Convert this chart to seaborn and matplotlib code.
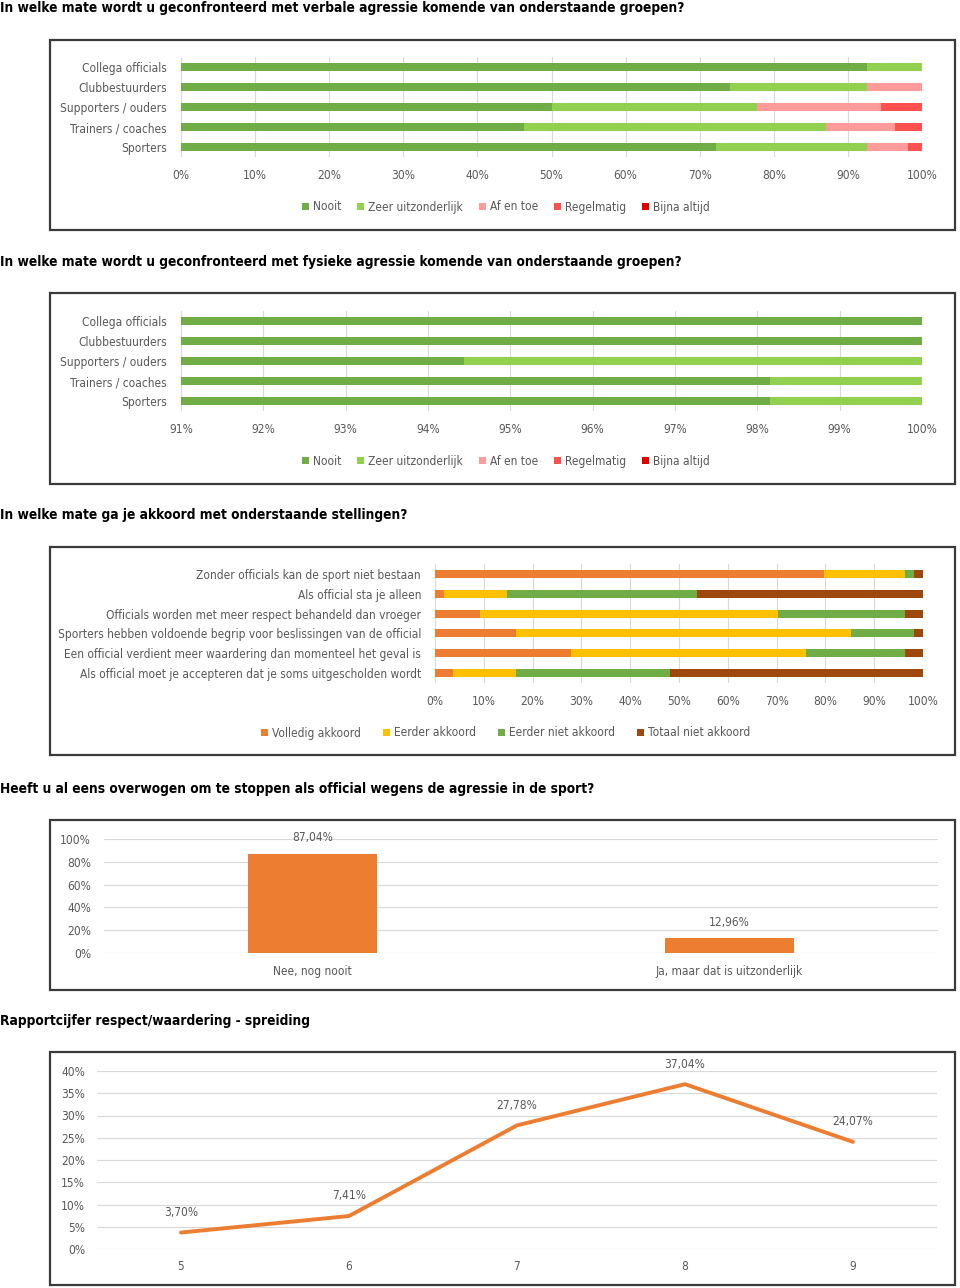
import numpy as np
import pandas as pd
import matplotlib
matplotlib.use("Agg")
import matplotlib.pyplot as plt
import seaborn as sns
from matplotlib.patches import Rectangle, Patch
from matplotlib import font_manager
from matplotlib.font_manager import FontProperties
from matplotlib.textpath import TextPath

# ---------------- data ----------------
groups = ["Collega officials", "Clubbestuurders", "Supporters / ouders",
          "Trainers / coaches", "Sporters"]
freq_labels = ["Nooit", "Zeer uitzonderlijk", "Af en toe", "Regelmatig", "Bijna altijd"]

verbal_nooit = [92.59, 74.07, 50.00, 46.30, 72.22]
verbal_zeer = [7.41, 18.52, 27.78, 40.74, 20.37]
verbal_afentoe = [0.0, 7.41, 16.67, 9.26, 5.56]
verbal_regelmatig = [0.0, 0.0, 5.56, 3.70, 1.85]
verbal_bijna = [0.0, 0.0, 0.0, 0.0, 0.0]

fysiek_nooit = [100.0, 100.0, 94.44, 98.15, 98.15]
fysiek_zeer = [0.0, 0.0, 5.56, 1.85, 1.85]
fysiek_afentoe = [0.0, 0.0, 0.0, 0.0, 0.0]
fysiek_regelmatig = [0.0, 0.0, 0.0, 0.0, 0.0]
fysiek_bijna = [0.0, 0.0, 0.0, 0.0, 0.0]

statements = ["Zonder officials kan de sport niet bestaan",
              "Als official sta je alleen",
              "Officials worden met meer respect behandeld dan vroeger",
              "Sporters hebben voldoende begrip voor beslissingen van de official",
              "Een official verdient meer waardering dan momenteel het geval is",
              "Als official moet je accepteren dat je soms uitgescholden wordt"]
agree_labels = ["Volledig akkoord", "Eerder akkoord", "Eerder niet akkoord", "Totaal niet akkoord"]
volledig = [79.63, 1.85, 9.26, 16.67, 27.78, 3.70]
eerder = [16.67, 12.96, 61.11, 68.52, 48.15, 12.96]
eerder_niet = [1.85, 38.89, 25.93, 12.96, 20.37, 31.48]
totaal_niet = [1.85, 46.30, 3.70, 1.85, 3.70, 51.85]

stop_labels = ["Nee, nog nooit", "Ja, maar dat is uitzonderlijk"]
stop_values = [87.04, 12.96]

scores = ["5", "6", "7", "8", "9"]
score_pct = [3.70, 7.41, 27.78, 37.04, 24.07]

titles = ["In welke mate wordt u geconfronteerd met verbale agressie komende van onderstaande groepen?",
          "In welke mate wordt u geconfronteerd met fysieke agressie komende van onderstaande groepen?",
          "In welke mate ga je akkoord met onderstaande stellingen?",
          "Heeft u al eens overwogen om te stoppen als official wegens de agressie in de sport?",
          "Rapportcijfer respect/waardering - spreiding"]

# ---------------- font choice: narrowest sans (relative to x-height) ----------------
sns.set_theme(style="white")
allowed = ["Liberation Sans Narrow", "Arial Narrow", "Liberation Sans", "DejaVu Sans",
           "Noto Sans", "Roboto", "Open Sans", "Lato", "Inter"]
best = None
seen = set()
for f in font_manager.fontManager.ttflist:
    if f.name not in allowed or f.style != "normal":
        continue
    w = f.weight if isinstance(f.weight, int) else {"normal": 400, "regular": 400, "book": 400}.get(str(f.weight), 0)
    if w != 400:
        continue
    key = (f.name, str(f.stretch))
    if key in seen:
        continue
    seen.add(key)
    try:
        fp = FontProperties(fname=f.fname)
        wid = TextPath((0, 0), statements[3], size=10, prop=fp).get_extents().width
        xh = TextPath((0, 0), "x", size=10, prop=fp).get_extents().height
        ratio = wid / xh
    except Exception:
        continue
    if best is None or ratio < best[0]:
        best = (ratio, f.name, f.stretch)
fam_name, fam_stretch = (best[1], best[2]) if best else ("DejaVu Sans", "normal")
plt.rcParams['font.family'] = [fam_name, "DejaVu Sans"]
plt.rcParams['font.stretch'] = fam_stretch

freq_colors = ["#70AD47", "#92D050", "#FF9B9B", "#FF5050", "#E00000"]
agree_colors = ["#ED7D31", "#FFC000", "#70AD47", "#9E480E"]
GRID = "#D9D9D9"
TXT = "#595959"
ORANGE = "#ED7D31"

W, H = 960, 1288
fig = plt.figure(figsize=(W / 100, H / 100), dpi=100)
fig.patch.set_facecolor("white")
renderer = fig.canvas.get_renderer()


def measure(s, size, weight="normal"):
    t = fig.text(0, 0, s, fontsize=size, fontweight=weight)
    w = t.get_window_extent(renderer=renderer).width
    t.remove()
    return w


# calibrate sizes so the text widths match the reference
FS = 10.0 * 362 / measure(statements[3], 10.0)
TFS = 10.0 * 683 / measure(titles[0], 10.0, "bold")
FSPX = FS * 100 / 72


def rect(x0, y0, x1, y1):
    return [x0 / W, 1 - y1 / H, (x1 - x0) / W, (y1 - y0) / H]


def box(x0, y0, x1, y1):
    fig.patches.append(Rectangle((x0 / W, 1 - y1 / H), (x1 - x0) / W, (y1 - y0) / H,
                                 transform=fig.transFigure, fill=False,
                                 edgecolor="#3A3A3A", lw=1.6, zorder=0))


def title(y, s):
    fig.text(0.5 / W, 1 - y / H, s, fontsize=TFS, fontweight="bold", color="black",
             ha="left", va="center")


def style_ax(ax, gridaxis):
    for sp in ax.spines.values():
        sp.set_visible(False)
    ax.grid(axis=gridaxis, color=GRID, lw=0.8)
    ax.set_axisbelow(True)
    ax.tick_params(length=0, colors=TXT, labelsize=FS)
    ax.set_xlabel("")
    ax.set_ylabel("")
    ax.set_facecolor("none")


def stacked(ax, cats, series, labels, colors, width):
    df = pd.DataFrame(dict(zip(labels, series)), index=cats)
    cum = df.cumsum(axis=1)
    for lab, col in reversed(list(zip(labels, colors))):
        vals = cum[lab].where(df[lab] > 0)
        d = pd.DataFrame({"cat": cats, "val": vals.values})
        sns.barplot(data=d, x="val", y="cat", order=cats, orient="h", color=col,
                    saturation=1, width=width, linewidth=0, ax=ax, errorbar=None)


def legend(labels, colors, yc, xc, gap_px):
    handles = [Patch(facecolor=c, edgecolor="none") for c in colors]
    fig.legend(handles, labels, loc="center", bbox_to_anchor=(xc / W, 1 - yc / H),
               ncol=len(labels), frameon=False, fontsize=FS,
               handlelength=7 / FSPX, handleheight=7 / FSPX,
               handletextpad=4 / FSPX, columnspacing=gap_px / FSPX,
               borderaxespad=0, borderpad=0, labelcolor=TXT)


pct = lambda v, p: f"{v:.0f}%"

# ---------------- chart 1 ----------------
title(8, titles[0])
box(50, 40, 955, 230)
ax1 = fig.add_axes(rect(181, 57, 922, 157))
stacked(ax1, groups, [verbal_nooit, verbal_zeer, verbal_afentoe, verbal_regelmatig, verbal_bijna],
        freq_labels, freq_colors, 0.36)
ax1.set_xlim(0, 100)
ax1.set_xticks(np.arange(0, 101, 10))
ax1.xaxis.set_major_formatter(pct)
style_ax(ax1, "x")
ax1.tick_params(axis="y", pad=10)
ax1.tick_params(axis="x", pad=8.5)
legend(freq_labels, freq_colors, 207, 506, 16)

# ---------------- chart 2 ----------------
title(262, titles[1])
box(50, 293, 955, 484)
ax2 = fig.add_axes(rect(181, 311, 922, 411))
stacked(ax2, groups, [fysiek_nooit, fysiek_zeer, fysiek_afentoe, fysiek_regelmatig, fysiek_bijna],
        freq_labels, freq_colors, 0.36)
ax2.set_xlim(91, 100)
ax2.set_xticks(np.arange(91, 101, 1))
ax2.xaxis.set_major_formatter(pct)
style_ax(ax2, "x")
ax2.tick_params(axis="y", pad=10)
ax2.tick_params(axis="x", pad=8.5)
legend(freq_labels, freq_colors, 461, 506, 16)

# ---------------- chart 3 ----------------
title(515, titles[2])
box(50, 547, 955, 755)
ax3 = fig.add_axes(rect(435, 564, 923, 683))
stacked(ax3, statements, [volledig, eerder, eerder_niet, totaal_niet],
        agree_labels, agree_colors, 0.40)
ax3.set_xlim(0, 100)
ax3.set_xticks(np.arange(0, 101, 10))
ax3.xaxis.set_major_formatter(pct)
style_ax(ax3, "x")
ax3.tick_params(axis="y", pad=10)
ax3.tick_params(axis="x", pad=8.5)
legend(agree_labels, agree_colors, 733, 506, 22)

# ---------------- chart 4 ----------------
title(789, titles[3])
box(50, 820, 955, 990)
ax4 = fig.add_axes(rect(104, 839, 938, 953))
d4 = pd.DataFrame({"cat": stop_labels, "val": stop_values})
sns.barplot(data=d4, x="cat", y="val", order=stop_labels, color=ORANGE, saturation=1,
            width=0.31, linewidth=0, ax=ax4, errorbar=None)
ax4.set_ylim(0, 100)
ax4.set_yticks(np.arange(0, 101, 20))
ax4.yaxis.set_major_formatter(pct)
ax4.set_xlim(-0.5, 1.5)
style_ax(ax4, "y")
ax4.tick_params(axis="y", pad=9.4)
ax4.tick_params(axis="x", pad=9)
for i, v in enumerate(stop_values):
    ax4.annotate(f"{v:.2f}%".replace(".", ","), (i, v), xytext=(0, 11.5),
                 textcoords="offset points", ha="center", va="center",
                 fontsize=FS, color=TXT)

# ---------------- chart 5 ----------------
title(1021, titles[4])
box(50, 1052, 955, 1285)
ax5 = fig.add_axes(rect(97, 1071, 937, 1249))
d5 = pd.DataFrame({"score": scores, "pct": score_pct})
sns.lineplot(data=d5, x="score", y="pct", color=ORANGE, lw=2.8, sort=False, ax=ax5)
ax5.set_ylim(0, 40)
ax5.set_yticks(np.arange(0, 41, 5))
ax5.yaxis.set_major_formatter(pct)
ax5.set_xlim(-0.5, 4.5)
style_ax(ax5, "y")
ax5.tick_params(axis="y", pad=8.6)
ax5.tick_params(axis="x", pad=8)
for i, v in enumerate(score_pct):
    ax5.annotate(f"{v:.2f}%".replace(".", ","), (i, v), xytext=(0, 14.5),
                 textcoords="offset points", ha="center", va="center",
                 fontsize=FS, color=TXT)

fig.savefig("out.png", dpi=100, facecolor="white")
